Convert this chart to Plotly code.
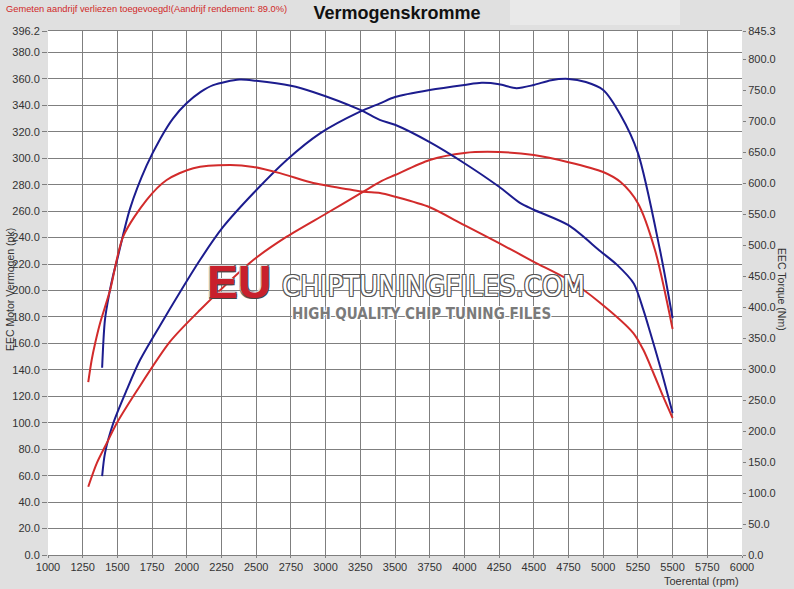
import plotly.graph_objects as go

# ---- data ----
tuned_torque_rpm = [1390, 1410, 1440, 1470, 1500, 1590, 1710, 1810, 1900, 2000, 2100, 2190, 2380, 2500, 2750, 2910,
                    3250, 3390, 3500, 3750, 4000, 4250, 4400, 4500, 4750, 4980, 5100, 5220, 5290, 5340, 5410, 5500]
tuned_torque = [302, 379, 420, 452, 478, 558, 628, 672, 704, 729, 747, 758, 767, 765, 757, 747,
                718, 702, 694, 666, 632, 594, 568, 557, 532, 490, 468, 438, 395, 358, 304, 229]

stock_torque_rpm = [1290, 1315, 1340, 1375, 1447, 1542, 1711, 1855, 2047, 2311, 2479, 2671, 2911, 3055,
                    3272, 3392, 3500, 3750, 4000, 4250, 4500, 4750, 4977, 5217, 5289, 5361, 5433, 5500]
stock_torque = [279, 315, 342, 374, 427, 514, 573, 605, 624, 629, 626, 616, 600, 594,
                586, 584, 578, 561, 532, 503, 473, 444, 407, 358, 331, 294, 255, 221]

tuned_power_rpm = [1390, 1411, 1470, 1567, 1663, 1831, 2095, 2263, 2479, 2720, 2960, 3248, 3392, 3500,
                   3750, 4000, 4125, 4250, 4375, 4500, 4625, 4750, 4875, 5000, 5125, 5250, 5409, 5500]
tuned_power = [59.7, 77.2, 99.6, 124.8, 147.4, 177.7, 223.0, 248.2, 273.5, 298.7, 318.8, 335.2, 341.5, 346.3,
               351.6, 355.4, 357.0, 356.0, 353.0, 355.4, 359.0, 360.0, 357.6, 351.6, 332.7, 304.0, 230.6, 179.0]

stock_power_rpm = [1290, 1351, 1423, 1495, 1639, 1879, 2095, 2479, 2720, 3008, 3272, 3392, 3500,
                   3750, 4000, 4250, 4500, 4750, 5000, 5125, 5250, 5373, 5500]
stock_power = [51.6, 69.3, 84.5, 99.6, 124.0, 161.3, 185.2, 223.0, 240.7, 258.4, 274.7, 282.2, 287.3,
               298.7, 304.0, 304.7, 302.4, 297.0, 289.6, 282.0, 266.0, 230.6, 170.9]

x_ticks = list(range(1000, 6001, 250))
power_ticks = [i * 20 for i in range(20)] + [396.2]
torque_ticks = [i * 50 for i in range(17)] + [845.3]

BLUE = "#1c1c8e"
RED = "#d22b2b"
FONT = "Liberation Sans, Arial, sans-serif"

fig = go.Figure()
fig.add_trace(go.Scatter(x=tuned_torque_rpm, y=tuned_torque, yaxis="y2", mode="lines",
                         line=dict(color=BLUE, width=2, shape="spline", smoothing=0.8), showlegend=False))
fig.add_trace(go.Scatter(x=stock_torque_rpm, y=stock_torque, yaxis="y2", mode="lines",
                         line=dict(color=RED, width=2, shape="spline", smoothing=0.8), showlegend=False))
fig.add_trace(go.Scatter(x=tuned_power_rpm, y=tuned_power, mode="lines",
                         line=dict(color=BLUE, width=2, shape="spline", smoothing=0.8), showlegend=False))
fig.add_trace(go.Scatter(x=stock_power_rpm, y=stock_power, mode="lines",
                         line=dict(color=RED, width=2, shape="spline", smoothing=0.8), showlegend=False))

W, H = 794, 589
L, R, T, B = 48, 52, 31, 34
pw, ph = W - L - R, H - T - B


def px(xp):
    return (xp - L) / pw


def py(yp):
    return (H - B - yp) / ph


fig.update_layout(
    width=W, height=H,
    margin=dict(l=L, r=R, t=T, b=B, autoexpand=False),
    paper_bgcolor="#e0e0e0",
    plot_bgcolor="#ffffff",
    font=dict(family=FONT, size=11, color="#333333"),
    title=dict(text="<b>Vermogenskromme</b>", x=397 / W, xanchor="center",
               y=1 - 13 / H, yanchor="middle", yref="container",
               font=dict(family=FONT, size=18, color="#111111")),
    xaxis=dict(range=[1000, 6000], tickvals=x_ticks, ticktext=[str(v) for v in x_ticks],
               showgrid=True, gridcolor="#7f7f7f", gridwidth=1, zeroline=False,
               ticks="outside", ticklen=2, tickcolor="#7f7f7f", automargin=False,
               showline=True, linecolor="#7f7f7f", mirror=True,
               tickfont=dict(size=11, color="#333333")),
    yaxis=dict(range=[0, 396.2], tickvals=power_ticks, ticktext=[f"{v:.1f}" for v in power_ticks],
               showgrid=True, gridcolor="#7f7f7f", gridwidth=1, zeroline=False,
               ticks="outside", ticklen=5, tickcolor="#7f7f7f", automargin=False,
               tickfont=dict(size=11, color="#333333")),
    yaxis2=dict(range=[0, 845.3], tickvals=torque_ticks, ticktext=[f"{v:.1f}" for v in torque_ticks],
                overlaying="y", side="right", showgrid=False, zeroline=False,
                ticks="outside", ticklen=3, tickcolor="#7f7f7f", automargin=False,
                tickfont=dict(size=11, color="#333333")),
)

fig.add_shape(type="rect", xref="paper", yref="paper", x0=px(510), x1=px(680), y0=py(25), y1=py(0),
              fillcolor="#e9e9e9", line=dict(width=0), layer="below")

annos = [
    dict(text="Gemeten aandrijf verliezen toegevoegd!(Aandrijf rendement: 89.0%)",
         x=px(4), y=py(9), xanchor="left", yanchor="middle",
         font=dict(family=FONT, size=9.3, color="#d02828")),
    dict(text="EEC Motor Vermogen (pk)", x=px(10), y=py(290), textangle=-90,
         xanchor="center", yanchor="middle", font=dict(family=FONT, size=10.5, color="#333333")),
    dict(text="EEC Torque (Nm)", x=px(782), y=py(290), textangle=90,
         xanchor="center", yanchor="middle", font=dict(family=FONT, size=10.5, color="#333333")),
    dict(text="Toerental (rpm)", x=px(741), y=py(581), xanchor="right", yanchor="middle",
         font=dict(family=FONT, size=11, color="#333333")),
    dict(text="<b>EU</b>", x=px(239), y=py(282), xanchor="center", yanchor="middle",
         font=dict(family=FONT, size=46, color="#c8202c",
                   shadow="1px 1px 0 #444, -1px -1px 0 #ddd, 1px -1px 0 #666, -1px 1px 0 #666")),
    dict(text="CHIPTUNINGFILES.COM", x=px(433), y=py(286), xanchor="center", yanchor="middle",
         font=dict(family="DejaVu Sans Condensed, " + FONT, size=29, color="#ffffff",
                   shadow="1px 1px 0 #555, -1px -1px 0 #555, 1px -1px 0 #555, -1px 1px 0 #555")),
    dict(text="<b>HIGH QUALITY CHIP TUNING FILES</b>", x=px(421), y=py(314), xanchor="center",
         yanchor="middle",
         font=dict(family="DejaVu Sans Condensed, " + FONT, size=15, color="#7a7a7a",
                   shadow="1px 1px 0 #fff, -1px -1px 0 #fff, 1px -1px 0 #fff, -1px 1px 0 #fff")),
]
for a in annos:
    fig.add_annotation(xref="paper", yref="paper", showarrow=False, **a)

fig.write_html("out.html", config={"displayModeBar": False},
               post_script="document.body.style.margin='0';document.body.style.overflow='hidden';")
